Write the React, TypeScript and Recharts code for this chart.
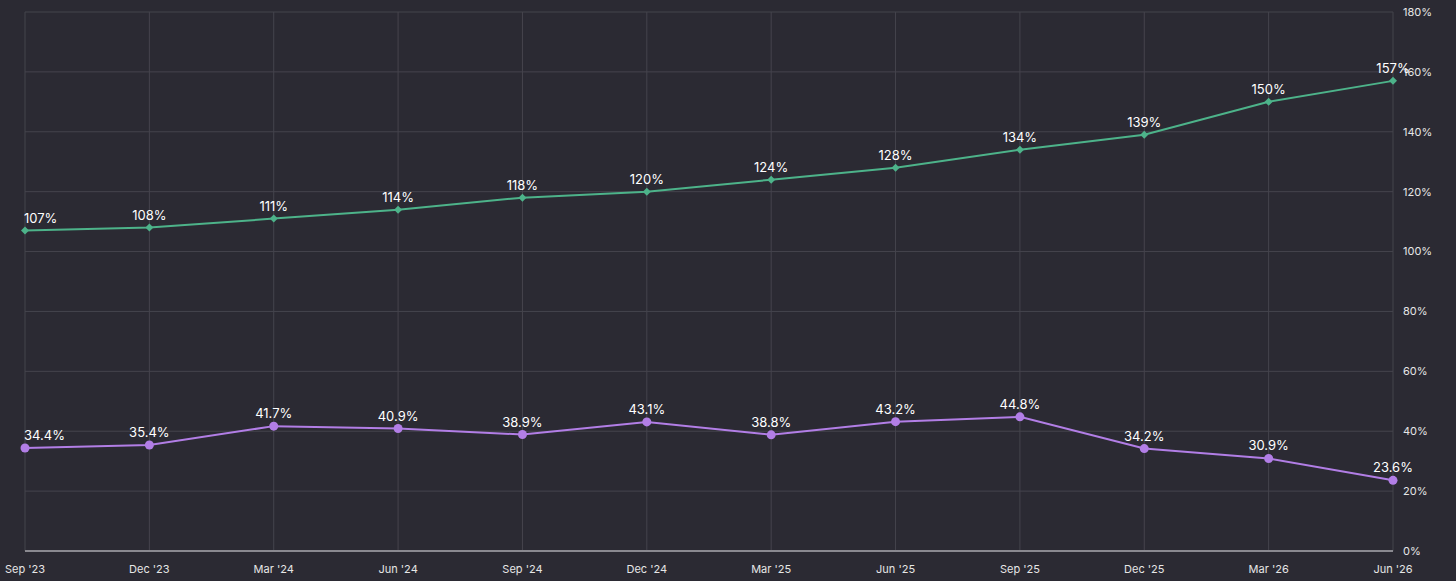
import React from "react";
import { LineChart, Line, XAxis, YAxis, CartesianGrid } from "recharts";

const quarters = [
  "Sep '23", "Dec '23", "Mar '24", "Jun '24", "Sep '24", "Dec '24",
  "Mar '25", "Jun '25", "Sep '25", "Dec '25", "Mar '26", "Jun '26",
];
const greenValues = [107, 108, 111, 114, 118, 120, 124, 128, 134, 139, 150, 157];
const purpleValues = [34.4, 35.4, 41.7, 40.9, 38.9, 43.1, 38.8, 43.2, 44.8, 34.2, 30.9, 23.6];
const yTicks = [0, 20, 40, 60, 80, 100, 120, 140, 160, 180];

const GREEN = "#4db38a";
const PURPLE = "#b27ee6";
const BG = "#2b2a33";
const FONT = "Inter, 'Noto Sans', sans-serif";

const data = quarters.map((q, i) => ({
  quarter: q,
  green: greenValues[i],
  purple: purpleValues[i],
}));

const Diamond = (props: any) => {
  const { cx, cy } = props;
  if (cx == null || cy == null) return null;
  const r = 4;
  return (
    <polygon
      points={`${cx},${cy - r} ${cx + r},${cy} ${cx},${cy + r} ${cx - r},${cy}`}
      fill={GREEN}
    />
  );
};

const makeLabel = (fmt: (v: number) => string) => (props: any) => {
  const { x, y, value, index } = props;
  const first = index === 0;
  return (
    <text
      x={first ? x - 1 : x}
      y={y - 8}
      fill="#ffffff"
      fontSize={13}
      fontFamily={FONT}
      textAnchor={first ? "start" : "middle"}
    >
      {fmt(value)}
    </text>
  );
};

const App: React.FC = () => {
  return (
    <div
      style={{
        position: "fixed",
        left: 0,
        top: 0,
        width: 1456,
        height: 581,
        background: BG,
      }}
    >
      <LineChart
        width={1456}
        height={581}
        data={data}
        margin={{ top: 12, right: 0, bottom: 0, left: 25 }}
      >
        <CartesianGrid stroke="#45444d" strokeWidth={1} />
        <XAxis
          dataKey="quarter"
          height={30}
          tickLine={false}
          axisLine={{ stroke: "#8a8990", strokeWidth: 2 }}
          tick={{ fill: "#e6e6e6", fontSize: 11, fontFamily: FONT }}
          tickMargin={8}
          interval={0}
        />
        <YAxis
          orientation="right"
          width={63}
          domain={[0, 180]}
          ticks={yTicks}
          tickFormatter={(v: number) => `${v}%`}
          tickLine={false}
          axisLine={false}
          tick={{ fill: "#e6e6e6", fontSize: 11, fontFamily: FONT, textAnchor: "start" }}
          tickMargin={4}
        />
        <Line
          dataKey="green"
          stroke={GREEN}
          strokeWidth={2}
          dot={<Diamond />}
          activeDot={false}
          isAnimationActive={false}
          label={makeLabel((v) => `${v}%`)}
        />
        <Line
          dataKey="purple"
          stroke={PURPLE}
          strokeWidth={2}
          dot={{ r: 4.5, fill: PURPLE, stroke: PURPLE, strokeWidth: 0 }}
          activeDot={false}
          isAnimationActive={false}
          label={makeLabel((v) => `${v.toFixed(1)}%`)}
        />
      </LineChart>
    </div>
  );
};

export default App;
